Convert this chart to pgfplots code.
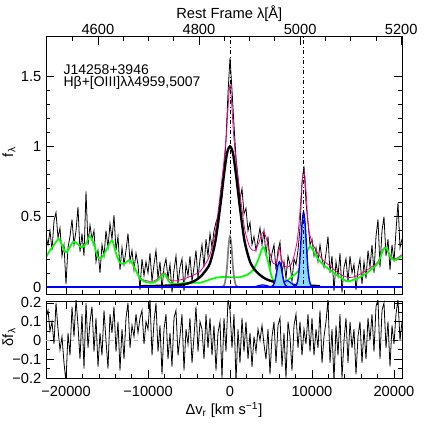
\documentclass[border=0pt]{standalone}
\usepackage{fontspec}
\setmainfont{Liberation Sans}
\usepackage{pgfplots}
\pgfplotsset{compat=1.18}
\usepackage{pgfplotstable}

\pgfplotstableread{
v f r
-22448 0.36 0.12
-22204 0.30 0.16
-21960 0.40 0.05
-21716 0.26 0.10
-21472 0.47 -0.02
-21228 0.53 0.20
-20984 0.35 0.06
-20740 0.42 -0.05
-20496 0.22 0.02
-20252 0.30 -0.12
-20008 0.02 -0.22
-19764 0.28 0.04
-19520 0.36 -0.08
-19276 0.48 0.18
-19032 0.30 0.02
-18788 0.40 0.22
-18544 0.57 0.08
-18300 0.25 -0.10
-18056 0.38 0.14
-17812 0.22 -0.15
-17568 0.68 0.20
-17324 0.30 -0.04
-17080 0.44 0.10
-16836 0.34 0.18
-16592 0.40 -0.06
-16348 0.18 0.12
-16104 0.26 -0.14
-15860 0.10 0.04
-15616 0.30 -0.08
-15372 0.22 0.16
-15128 0.40 0.00
-14884 0.28 -0.15
-14640 0.45 0.14
-14396 0.34 0.04
-14152 0.51 0.18
-13908 0.26 -0.06
-13664 0.36 0.10
-13420 0.12 -0.16
-13176 0.28 0.06
-12932 0.16 -0.10
-12688 0.26 0.12
-12444 0.38 0.20
-12200 0.18 -0.04
-11956 0.26 0.08
-11712 0.12 0.02
-11468 0.24 0.14
-11224 0.16 0.04
-10980 -0.02 0.12
-10736 0.20 0.16
-10492 0.08 -0.02
-10248 0.18 0.10
-10004 0.10 0.06
-9760 0.24 0.22
-9516 0.04 -0.08
-9272 0.16 0.10
-9028 0.26 0.20
-8784 0.06 -0.06
-8540 0.18 0.08
-8296 -0.02 -0.18
-8052 0.14 0.06
-7808 0.20 0.14
-7564 0.06 -0.10
-7320 0.16 0.04
-7076 -0.04 -0.14
-6832 0.12 0.12
-6588 0.22 0.16
-6344 0.02 -0.08
-6100 0.14 0.02
-5856 0.20 0.14
-5612 -0.03 -0.16
-5368 0.16 0.06
-5124 0.08 -0.02
-4880 0.22 0.12
-4636 0.04 -0.12
-4392 0.14 0.02
-4148 0.26 0.18
-3904 0.06 -0.06
-3660 0.20 0.10
-3416 0.30 0.06
-3172 0.14 -0.10
-2928 0.34 0.14
-2684 0.22 -0.04
-2440 0.38 0.12
-2196 0.28 -0.08
-1952 0.40 0.08
-1708 0.46 -0.16
-1464 0.50 0.04
-1220 0.56 0.10
-976 0.64 -0.20
-732 0.82 0.12
-488 1.05 -0.06
-244 1.38 0.22
0 1.63 0.16
244 1.40 -0.04
488 1.15 0.14
732 0.92 -0.22
976 0.78 0.06
1220 0.62 -0.12
1464 0.70 0.12
1708 0.52 -0.06
1952 0.56 0.10
2196 0.40 -0.10
2440 0.46 0.04
2684 0.30 -0.14
2928 0.36 0.02
3172 0.26 -0.06
3416 0.34 0.06
3660 0.42 0.00
3904 0.30 0.08
4148 0.40 -0.02
4392 0.22 -0.10
4636 0.36 0.06
4880 0.14 -0.18
5124 0.24 0.02
5368 0.30 0.10
5612 0.12 -0.12
5856 0.26 0.08
6100 0.32 0.12
6344 0.10 -0.14
6588 0.18 0.04
6832 0.06 -0.20
7076 0.22 0.10
7320 0.16 0.02
7564 0.04 -0.16
7808 0.20 0.08
8052 0.16 0.14
8296 0.26 -0.04
8540 0.42 0.10
8784 0.74 -0.08
9028 0.86 0.06
9272 0.60 -0.02
9516 0.46 0.14
9760 0.30 -0.06
10004 0.34 0.12
10248 0.22 -0.08
10492 0.28 0.06
10736 0.18 -0.04
10980 0.30 0.16
11224 0.20 -0.12
11468 0.14 0.02
11712 0.24 0.10
11956 0.36 0.22
12200 0.10 -0.12
12444 0.22 0.06
12688 -0.03 -0.22
12932 0.18 0.08
13176 0.08 -0.08
13420 0.24 0.14
13664 -0.04 -0.20
13908 0.14 0.00
14152 0.20 0.12
14396 0.04 -0.12
14640 0.22 0.10
14884 0.10 -0.04
15128 0.16 0.06
15372 -0.02 -0.18
15616 0.12 0.02
15860 0.20 0.10
16104 0.02 -0.12
16348 0.18 0.06
16592 0.06 -0.10
16836 0.26 0.12
17080 0.14 0.00
17324 0.30 0.14
17568 0.10 -0.06
17812 0.36 0.18
18056 0.48 0.22
18300 0.14 -0.10
18544 0.40 0.16
18788 0.50 0.20
19032 0.22 -0.04
19276 0.34 0.10
19520 0.12 -0.14
19764 0.30 0.08
20008 0.18 -0.02
20252 0.40 0.14
20496 0.60 0.22
20740 0.28 0.00
20984 0.34 0.10
}\spec

\pgfplotstableread{
v f
-22448 0.21
-21960 0.26
-21106 0.33
-20862 0.34
-20496 0.30
-20130 0.25
-19764 0.26
-19154 0.32
-18666 0.31
-18056 0.28
-17568 0.31
-17080 0.36
-16592 0.30
-16104 0.21
-15616 0.21
-15128 0.26
-14396 0.33
-13908 0.24
-13420 0.17
-12810 0.17
-12200 0.19
-11590 0.13
-10980 0.06
-10248 0.035
-9394 0.03
-8784 0.05
-8174 0.09
-7930 0.09
-7564 0.05
-7198 0.025
-6466 0.02
-5490 0.03
-4636 0.03
-3660 0.03
-2806 0.045
-2074 0.06
-1220 0.07
0 0.07
1220 0.07
2196 0.09
2806 0.12
3416 0.19
3904 0.27
4148 0.28
4514 0.21
4880 0.12
5246 0.05
5856 0.02
6466 0.03
7076 0.05
7686 0.08
8296 0.11
8906 0.17
9394 0.25
9760 0.29
10126 0.26
10614 0.21
11346 0.16
12200 0.12
13176 0.08
14274 0.04
15006 0.05
15860 0.07
16714 0.10
17446 0.135
18056 0.17
18666 0.26
19032 0.28
19520 0.22
20008 0.19
20496 0.20
20984 0.22
}\green

\pgfplotstableread{
v f
-22448 0.21
-21960 0.26
-21106 0.33
-20862 0.34
-20496 0.30
-20130 0.25
-19764 0.26
-19154 0.32
-18666 0.31
-18056 0.28
-17568 0.31
-17080 0.36
-16592 0.30
-16104 0.21
-15616 0.21
-15128 0.26
-14396 0.33
-13908 0.24
-13420 0.17
-12810 0.17
-12200 0.19
-11590 0.13
-10980 0.065
-10248 0.045
-9394 0.04
-8784 0.06
-8174 0.10
-7930 0.10
-7564 0.065
-7198 0.045
-6466 0.045
-5490 0.06
-4880 0.075
-4270 0.09
-3660 0.11
-3050 0.16
-2440 0.23
-1830 0.38
-1464 0.53
-1098 0.71
-732 0.90
-458 1.07
-305 1.21
-152 1.35
0 1.44
152 1.35
305 1.21
458 1.07
732 0.90
1098 0.72
1464 0.55
1830 0.40
2440 0.28
3050 0.26
3416 0.30
3904 0.38
4148 0.39
4514 0.33
4880 0.24
5246 0.17
5612 0.17
5856 0.22
6018 0.28
6222 0.22
6527 0.16
6954 0.14
7442 0.16
7808 0.22
8174 0.32
8418 0.45
8640 0.62
8820 0.76
8975 0.82
9150 0.78
9310 0.65
9455 0.50
9638 0.40
9882 0.34
10126 0.30
10614 0.25
11346 0.19
12200 0.15
13176 0.10
14274 0.07
15006 0.07
15860 0.09
16714 0.12
17446 0.15
18056 0.18
18666 0.27
19032 0.28
19520 0.23
20008 0.20
20496 0.21
20984 0.23
}\magenta

\pgfplotstableread{
v f
-10980 0.005
-8540 0.008
-6710 0.012
-5490 0.02
-4880 0.03
-4270 0.045
-3660 0.07
-3050 0.11
-2440 0.17
-1830 0.31
-1464 0.45
-1098 0.62
-732 0.80
-366 0.95
0 1.00
366 0.95
732 0.80
1098 0.62
1464 0.45
1830 0.31
2440 0.18
3050 0.12
3660 0.085
4270 0.06
4880 0.045
5490 0.035
6710 0.02
8540 0.012
10980 0.006
}\broad

\begin{document}
\begin{tikzpicture}
\useasboundingbox (0,0) rectangle (318pt,318pt);
\pgfplotsset{
  common/.style={
    scale only axis, width=267pt,
    xmin=-22448, xmax=20984,
    scaled x ticks=false, scaled y ticks=false,
    tick align=inside,
    major tick length=6pt, minor tick length=3pt,
    tick style={black, line width=0.5pt},
    axis line style={line width=0.7pt},
    every tick label/.append style={font=\fontsize{11}{13}\selectfont},
    label style={font=\fontsize{11}{13}\selectfont},
  },
}
% ---------- upper panel ----------
\begin{axis}[common, at={(34.5pt,97.5pt)}, anchor=south west, height=193.5pt,
  ymin=-0.05, ymax=1.785,
  xtick={-20000,-10000,0,10000,20000}, minor x tick num=4, xticklabels={}, xtick pos=bottom,
  ytick={0,0.5,1,1.5}, yticklabels={0,0.5,1,1.5}, minor y tick num=4, ytick pos=both,
  ylabel={f\textsubscript{λ}},
  ylabel style={at={(axis description cs:-0.104,0.55)}, anchor=center},
]
\addplot[black, line width=0.6pt] table[x=v, y=f] {\spec};
\addplot[magenta, line width=0.6pt, smooth] table[x=v, y=f] {\magenta};
\addplot[green, line width=1.3pt, smooth] table[x=v, y=f] {\green};
\addplot[black, line width=1.8pt, smooth] table[x=v, y=f] {\broad};
\addplot[gray, line width=1.3pt, smooth] coordinates {(-1500,0) (-980,0) (-732,0.01) (-550,0.05) (-366,0.14) (-183,0.29) (0,0.36) (183,0.29) (366,0.14) (550,0.05) (732,0.01) (980,0) (1500,0)};
% [OIII] components
\addplot[blue, line width=0.9pt, fill=cyan!45, smooth] coordinates {(2390,0) (2790,0.001) (3190,0.0045) (3590,0.011) (3990,0.015) (4390,0.011) (4790,0.0045) (5190,0.001) (5590,0)} \closedcycle;
\addplot[blue, line width=0.9pt, fill=cyan!45, smooth] coordinates {(5350,0) (5750,0.003) (6150,0.013) (6550,0.033) (6950,0.045) (7350,0.033) (7750,0.013) (8150,0.003) (8550,0)} \closedcycle;
\addplot[blue, line width=1.1pt, fill=cyan!45, smooth] coordinates {(4918,0) (5103,0.003) (5286,0.013) (5468,0.040) (5652,0.094) (5835,0.151) (6018,0.178) (6201,0.151) (6384,0.094) (6568,0.040) (6750,0.013) (6933,0.003) (7118,0)} \closedcycle;
\addplot[blue, line width=1.1pt, fill=cyan!45, smooth] coordinates {(7875,0) (8060,0.01) (8243,0.04) (8425,0.12) (8609,0.28) (8792,0.45) (8975,0.53) (9158,0.45) (9341,0.28) (9525,0.12) (9707,0.04) (9890,0.01) (10075,0)} \closedcycle;
\addplot[blue, line width=2pt] coordinates {(-22448,0) (20984,0)};
\addplot[black, line width=0.5pt, dash dot] coordinates {(0,-0.05) (0,1.785)};
\addplot[black, line width=0.5pt, dash dot] coordinates {(8975,-0.05) (8975,1.785)};
\node[anchor=base west, inner sep=0pt, font=\fontsize{10.5}{12}\selectfont] at (axis cs:-20333,1.513) {J14258+3946};
\node[anchor=base west, inner sep=0pt, font=\fontsize{10.5}{12}\selectfont] at (axis cs:-20333,1.423) {Hβ+[OIII]λλ4959,5007};
\end{axis}
% ---------- top wavelength axis ----------
\begin{axis}[common, at={(34.5pt,97.5pt)}, anchor=south west, height=193.5pt,
  ymin=-0.05, ymax=1.785, ytick=\empty,
  xtick pos=top, xticklabel pos=top,
  major tick length=7pt, minor tick length=4pt,
  xtick={-16116,-3782,8552,20886}, xticklabels={4600,4800,5000,5200},
  xticklabel style={yshift=-2.5pt},
  minor xtick={-19200,-13033,-9949,-6866,-699,2385,5468,11635,14719,17802},
  xlabel={Rest Frame λ[Å]},
  xlabel style={at={(axis description cs:0.5,1)}, anchor=center, yshift=17pt, xshift=4pt},
]
\end{axis}
% ---------- lower panel ----------
\begin{axis}[common, at={(34.5pt,34.5pt)}, anchor=south west, height=57.75pt,
  ymin=-0.2, ymax=0.21,
  xtick={-20000,-10000,0,10000,20000}, xticklabels={−20000,−10000,0,10000,20000},
  minor x tick num=4, xtick pos=both,
  xticklabel style={yshift=-2.5pt},
  ytick={-0.2,-0.1,0,0.1,0.2}, yticklabels={−0.2,−0.1,0,0.1,0.2}, minor y tick num=1, ytick pos=both,
  xlabel={Δv\textsubscript{r} [km s\textsuperscript{−1}]},
  xlabel style={at={(axis description cs:0.5,0)}, anchor=center, yshift=-24pt},
  ylabel={δf\textsubscript{λ}},
  ylabel style={at={(axis description cs:-0.104,0.53)}, anchor=center},
]
\addplot[gray!60, line width=0.6pt, dashed] coordinates {(-22448,0) (20984,0)};
\addplot[black, line width=0.6pt] table[x=v, y=r] {\spec};
\end{axis}
\end{tikzpicture}
\end{document}
